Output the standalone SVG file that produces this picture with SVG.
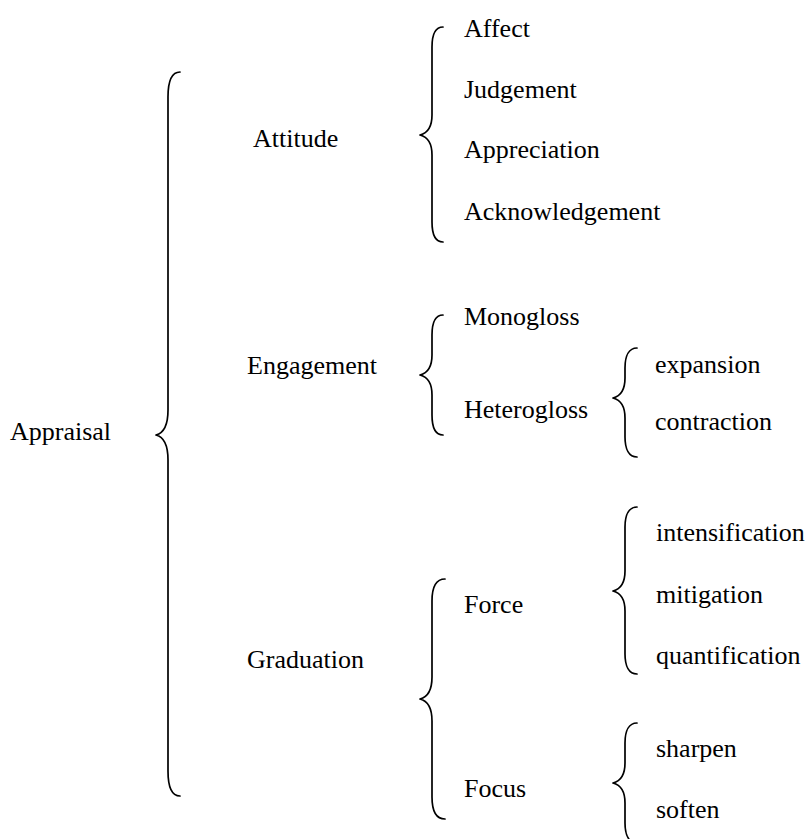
<svg xmlns="http://www.w3.org/2000/svg" width="811" height="839" viewBox="0 0 811 839">
  <style>
    text { font-family: "Liberation Serif", "Times New Roman", serif; font-size: 26px; fill: #000; }
    .brace { fill: none; stroke: #000; stroke-width: 1.7; stroke-linecap: round; stroke-linejoin: round; }
  </style>
  <rect width="811" height="839" fill="#fff"/>

  <!-- curly braces grouping each level -->
  <g id="connectors">
    <path class="brace" d="M180,72 C171,72 168,82 168,97 L168,410 C168,425 164,433 156,435 C164,437 168,445 168,460 L168,771 C168,786 171,796 180,796"/>
    <path class="brace" d="M443,27 C435,27 432,35 432,47 L432,115 C432,127 428,133 420,135 C428,137 432,143 432,155 L432,222 C432,234 435,242 443,242"/>
    <path class="brace" d="M443,315 C435,315 432,323 432,335 L432,355 C432,367 428,373 420,375 C428,377 432,383 432,395 L432,415 C432,427 435,435 443,435"/>
    <path class="brace" d="M637,348 C629,348 625,356 625,368 L625,378 C625,390 621,396 613,398 C621,400 625,406 625,418 L625,437 C625,449 629,457 637,457"/>
    <path class="brace" d="M445,579 C436,579 432,588 432,601 L432,677 C432,690 428,697 420,699 C428,701 432,708 432,721 L432,797 C432,810 436,819 445,819"/>
    <path class="brace" d="M637,507 C629,507 625,515 625,527 L625,571 C625,583 621,589 613,591 C621,593 625,599 625,611 L625,654 C625,666 629,674 637,674"/>
    <path class="brace" d="M637,723 C629,723 625,731 625,743 L625,763 C625,775 621,781 613,783 C621,785 625,791 625,803 L625,823 C625,835 629,843 637,843"/>
  </g>

  <g id="appraisal"><text x="10" y="440">Appraisal</text></g>

  <g id="attitude"><text x="253" y="147">Attitude</text></g>
  <g id="affect"><text x="464" y="37">Affect</text></g>
  <g id="judgement"><text x="464" y="98">Judgement</text></g>
  <g id="appreciation"><text x="464" y="158">Appreciation</text></g>
  <g id="acknowledgement"><text x="464" y="220">Acknowledgement</text></g>

  <g id="engagement"><text x="247" y="374">Engagement</text></g>
  <g id="monogloss"><text x="464" y="325">Monogloss</text></g>
  <g id="heterogloss"><text x="464" y="418">Heterogloss</text></g>
  <g id="expansion"><text x="655" y="373">expansion</text></g>
  <g id="contraction"><text x="655" y="430">contraction</text></g>

  <g id="graduation"><text x="247" y="668">Graduation</text></g>
  <g id="force"><text x="464" y="613">Force</text></g>
  <g id="focus"><text x="464" y="797">Focus</text></g>
  <g id="intensification"><text x="656" y="541">intensification</text></g>
  <g id="mitigation"><text x="656" y="603">mitigation</text></g>
  <g id="quantification"><text x="656" y="664">quantification</text></g>
  <g id="sharpen"><text x="656" y="757">sharpen</text></g>
  <g id="soften"><text x="656" y="818">soften</text></g>
</svg>
